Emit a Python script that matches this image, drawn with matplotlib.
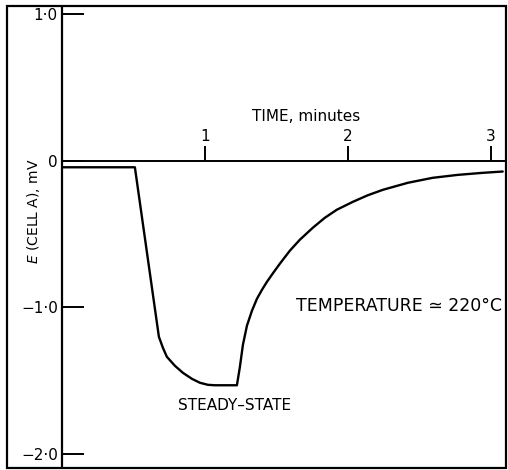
import matplotlib

matplotlib.use("Agg")
import matplotlib.pyplot as plt
from matplotlib.patches import Rectangle

# values (time in minutes, E in mV)
time_min = [0.0, 0.510, 0.678, 0.706, 0.734, 0.790, 0.846, 0.909, 0.965,
            1.021, 1.070, 1.224, 1.245, 1.266, 1.294, 1.329, 1.364, 1.399,
            1.434, 1.483, 1.524, 1.594, 1.664, 1.755, 1.839, 1.923, 2.035,
            2.140, 2.245, 2.420, 2.594, 2.769, 2.944, 3.084]
e_mv = [-0.044, -0.044, -1.201, -1.276, -1.338, -1.399, -1.447, -1.488,
        -1.515, -1.529, -1.532, -1.532, -1.406, -1.256, -1.126, -1.024,
        -0.942, -0.881, -0.826, -0.758, -0.703, -0.614, -0.539, -0.457,
        -0.389, -0.334, -0.280, -0.235, -0.198, -0.150, -0.116, -0.096,
        -0.082, -0.073]

x_ticks = [1, 2, 3]
y_ticks = [1.0, 0.0, -1.0, -2.0]
y_labels = ["1·0", "0", "−1·0", "−2·0"]

fig = plt.figure(figsize=(5.08, 4.70), dpi=100)
ax = fig.add_axes([62 / 508, 3 / 470, 443 / 508, 460 / 470])

ax.plot(time_min, e_mv, color="black", lw=1.7,
        solid_joinstyle="round", solid_capstyle="round")

ax.set_xlim(0, 3.10)
ax.set_ylim(-2.09, 1.05)

for side in ("right", "bottom"):
    ax.spines[side].set_visible(False)
ax.spines["left"].set_linewidth(1.6)
ax.spines["top"].set_position(("data", 0))
ax.spines["top"].set_linewidth(1.4)

ax.xaxis.tick_top()
ax.set_xticks(x_ticks)
ax.set_xticklabels([str(t) for t in x_ticks])
ax.tick_params(axis="x", direction="out", length=11, width=1.4,
               labelsize=11, pad=1)
ax.set_yticks(y_ticks)
ax.set_yticklabels(y_labels)
ax.tick_params(axis="y", direction="in", length=16, width=1.4,
               labelsize=11, pad=3)

ax.text(1.71, 0.30, "TIME, minutes", fontsize=11, ha="center", va="center")
ax.set_ylabel(r"$\it{E}$ (CELL A), mV", fontsize=10)
ax.yaxis.set_label_coords(-0.045, 0.557)

ax.text(2.36, -0.99, "TEMPERATURE ≃ 220°C", fontsize=12.5,
        ha="center", va="center")
ax.text(1.21, -1.67, "STEADY–STATE", fontsize=11, ha="center", va="center")

# outer frame round the whole figure
fig.patches.append(Rectangle((7 / 508, 2 / 470), 499 / 508, 462 / 470,
                             transform=fig.transFigure, fill=False,
                             lw=1.6, edgecolor="black"))

fig.savefig("out.png", dpi=100, facecolor="white")
